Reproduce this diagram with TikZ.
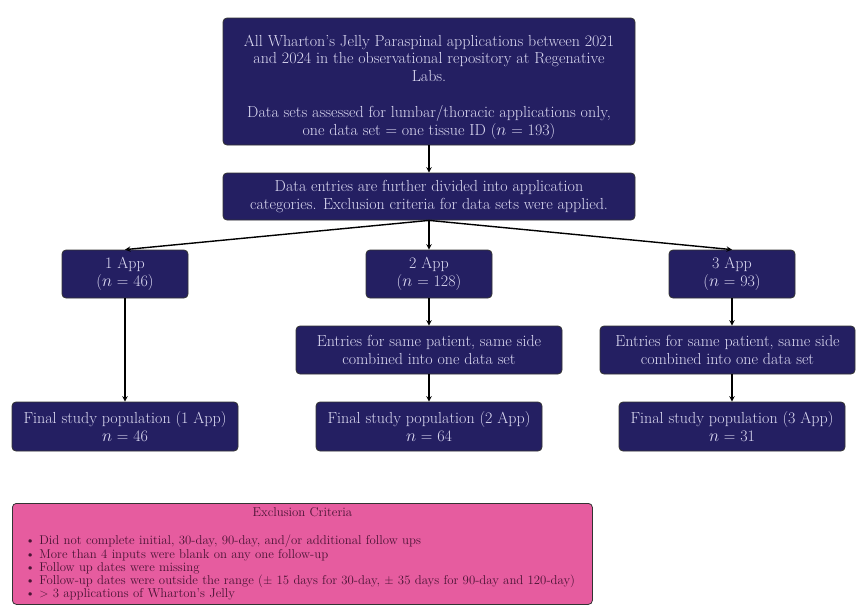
\documentclass[tikz,border=0pt]{standalone}
\usepackage{tikz}
\usetikzlibrary{shapes.geometric, arrows, positioning, calc}

\definecolor{navybox}{HTML}{241F62}
\definecolor{navytext}{HTML}{DCDAF2}
\definecolor{pinkbox}{HTML}{E65C9F}
\definecolor{pinktext}{HTML}{4A1435}

\begin{document}
\begin{tikzpicture}[x=1pt, y=-1pt,
    box/.style={draw=black!80, line width=0.8pt, rectangle, rounded corners=4pt, fill=navybox, text=navytext, align=center, inner sep=2pt, font=\fontsize{16}{17.8}\selectfont},
    appbox/.style={box, minimum width=126, minimum height=48},
    finalbox/.style={box, minimum width=226, minimum height=49},
    flow/.style={->, >=stealth, line width=1.4pt, black}]
\useasboundingbox (0,0) rectangle (857,606);

\node[box, minimum width=412, minimum height=127] (all) at (429,81.5) {\rule{0pt}{22pt}All Wharton's Jelly Paraspinal applications between 2021\\ and 2024 in the observational repository at Regenative\\ Labs.\\[17.8pt] Data sets assessed for lumbar/thoracic applications only,\\ one data set = one tissue ID ($n$ = 193)};
\node[box, minimum width=412, minimum height=47] (divided) at (429,196.5) {Data entries are further divided into application\\ categories. Exclusion criteria for data sets were applied.};

% application categories
\node[appbox] (app1) at (125,274) {1 App\\ ($n$ = 46)};
\node[appbox] (app2) at (429,274) {2 App\\ ($n$ = 128)};
\node[appbox] (app3) at (732,274) {3 App\\ ($n$ = 93)};

\node[box, minimum width=266, minimum height=48] (combine2) at (429,350) {Entries for same patient, same side\\ combined into one data set};
\node[box, minimum width=255, minimum height=48] (combine3) at (727.5,350) {Entries for same patient, same side\\ combined into one data set};

\node[finalbox] (final1) at (125,426.5) {Final study population (1 App)\\ $n$ = 46};
\node[finalbox] (final2) at (429,426.5) {Final study population (2 App)\\ $n$ = 64};
\node[finalbox] (final3) at (732,426.5) {Final study population (3 App)\\ $n$ = 31};

\draw[flow] (all) -- (divided);
\draw[flow] (divided.south) -- (app1.north);
\draw[flow] (divided.south) -- (app2.north);
\draw[flow] (divided.south) -- (app3.north);
\draw[flow] (app1) -- (final1);
\draw[flow] (app2) -- (combine2);
\draw[flow] (combine2) -- (final2);
\draw[flow] (app3.south) -- (app3.south |- combine3.north);
\draw[flow] (final3.north |- combine3.south) -- (final3.north);

% exclusion criteria
\node[draw=black!80, line width=0.8pt, rectangle, rounded corners=4pt, fill=pinkbox, text=pinktext, anchor=north west, minimum width=580, minimum height=101, text width=554, align=left, inner xsep=13pt, inner ysep=4pt, font=\fontsize{12.8}{13.1}\selectfont] (excl) at (12,503) {{\centering Exclusion Criteria\par}\vspace{15pt}
\textbullet\ Did not complete initial, 30-day, 90-day, and/or additional follow ups\\
\textbullet\ More than 4 inputs were blank on any one follow-up\\
\textbullet\ Follow up dates were missing\\
\textbullet\ Follow-up dates were outside the range ($\pm$ 15 days for 30-day, $\pm$ 35 days for 90-day and 120-day)\\
\textbullet\ $>$ 3 applications of Wharton's Jelly};
\end{tikzpicture}
\end{document}
